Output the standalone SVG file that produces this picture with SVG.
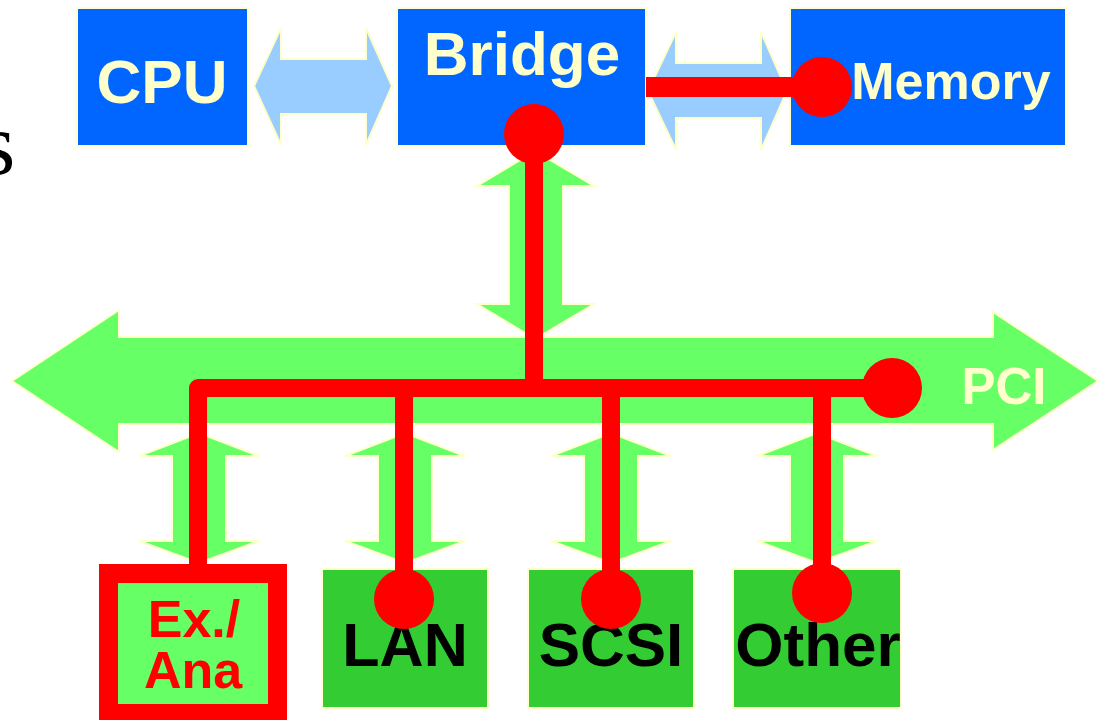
<svg xmlns="http://www.w3.org/2000/svg" width="1105" height="720" viewBox="0 0 1105 720">
  <style>
    .lbl { font-family: "Liberation Sans", Arial, sans-serif; font-weight: bold; }
    .host { fill: #0066FF; stroke: #FFFFCC; stroke-width: 2; }
    .host-txt { fill: #FFFFCC; text-anchor: middle; }
    .dev { fill: #33CC33; stroke: #FFFFCC; stroke-width: 2; }
    .dev-txt { fill: #000000; text-anchor: middle; }
    .blue-arrow { fill: #99CCFF; stroke: #FFFFCC; stroke-width: 2; stroke-linejoin: miter; }
    .green-arrow { fill: #66FF66; stroke: #FFFFCC; stroke-width: 2; stroke-linejoin: miter; }
    .wire { fill: none; stroke: #FF0000; stroke-linejoin: round; }
    .dot { fill: #FF0000; }
  </style>

  <rect width="1105" height="720" fill="#FFFFFF"/>

  <!-- tail of a heading clipped at the left edge -->
  <text x="-19" y="174" font-family="'Liberation Serif', 'Times New Roman', serif" font-size="88" fill="#000000">s</text>

  <!-- PCI bus -->
  <g id="pci-bus">
    <path class="green-arrow" d="M12,381 L119,310 L119,337 L993,337 L993,312 L1098,381 L993,450 L993,424 L119,424 L119,452 Z"/>
    <text class="lbl" x="1004" y="404" font-size="51" fill="#FFFFCC" text-anchor="middle">PCI</text>
  </g>

  <!-- block-arrow links between units -->
  <g id="links">
    <path class="blue-arrow" d="M254,86 L281,28 L281,59 L366,59 L366,28 L392,86 L366,145 L366,114 L281,114 L281,145 Z"/>
    <path class="blue-arrow" d="M648,91 L676,32 L676,63 L761,63 L761,32 L787,91 L761,150 L761,118 L676,118 L676,150 Z"/>
    <path class="green-arrow" d="M535,151 L594,186 L563,186 L563,304 L594,304 L535,339 L477,304 L509,304 L509,186 L477,186 Z"/>
    <path class="green-arrow" d="M199,433 L259,456 L226,456 L226,541 L259,541 L199,563 L139,541 L172,541 L172,456 L139,456 Z"/>
    <path class="green-arrow" d="M405,433 L465,456 L432,456 L432,541 L465,541 L405,563 L345,541 L378,541 L378,456 L345,456 Z"/>
    <path class="green-arrow" d="M611,433 L671,456 L638,456 L638,541 L671,541 L611,563 L551,541 L584,541 L584,456 L551,456 Z"/>
    <path class="green-arrow" d="M817,433 L877,456 L844,456 L844,541 L877,541 L817,563 L757,541 L790,541 L790,456 L757,456 Z"/>
  </g>

  <!-- host side units -->
  <g id="cpu">
    <rect class="host" x="77" y="8" width="171" height="138"/>
    <text class="lbl host-txt" x="162" y="103" font-size="62">CPU</text>
  </g>
  <g id="bridge">
    <rect class="host" x="397" y="8" width="249" height="138"/>
    <text class="lbl host-txt" x="522" y="75" font-size="62">Bridge</text>
  </g>
  <g id="memory">
    <rect class="host" x="790" y="8" width="276" height="138"/>
    <text class="lbl host-txt" x="951" y="99" font-size="52">Memory</text>
  </g>

  <!-- PCI devices -->
  <g id="ex-ana">
    <rect x="108.5" y="573.5" width="169" height="140" fill="#66FF66" stroke="#FF0000" stroke-width="19"/>
    <text class="lbl" font-size="52" fill="#FF0000" text-anchor="middle"><tspan x="194" y="637">Ex./</tspan><tspan x="193" y="688">Ana</tspan></text>
  </g>
  <g id="lan">
    <rect class="dev" x="322" y="569" width="166" height="139"/>
    <text class="lbl dev-txt" x="405" y="666" font-size="61">LAN</text>
  </g>
  <g id="scsi">
    <rect class="dev" x="528" y="569" width="166" height="139"/>
    <text class="lbl dev-txt" x="611" y="666" font-size="62">SCSI</text>
  </g>
  <g id="other">
    <rect class="dev" x="733" y="569" width="168" height="139"/>
    <text class="lbl dev-txt" x="818" y="666" font-size="62">Other</text>
  </g>

  <!-- highlighted transfer path -->
  <g id="signal-path">
    <line class="wire" x1="646" y1="87" x2="822" y2="87" stroke-width="20"/>
    <line class="wire" x1="534" y1="134" x2="534" y2="388" stroke-width="18"/>
    <path class="wire" d="M198,564 L198,388 L892,388" stroke-width="18"/>
    <line class="wire" x1="404" y1="388" x2="404" y2="599" stroke-width="18"/>
    <line class="wire" x1="611" y1="388" x2="611" y2="599" stroke-width="18"/>
    <line class="wire" x1="822" y1="388" x2="822" y2="593" stroke-width="18"/>
    <circle class="dot" cx="822" cy="87" r="30"/>
    <circle class="dot" cx="534" cy="134" r="30"/>
    <circle class="dot" cx="892" cy="388" r="30"/>
    <circle class="dot" cx="404" cy="599" r="30"/>
    <circle class="dot" cx="611" cy="599" r="30"/>
    <circle class="dot" cx="822" cy="593" r="30"/>
  </g>
</svg>
